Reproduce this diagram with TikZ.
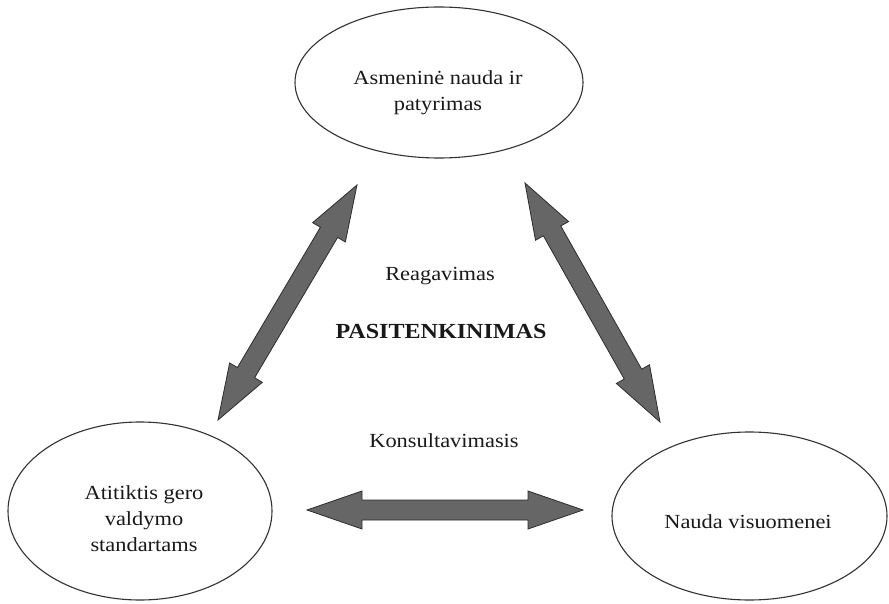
\documentclass[tikz,border=0pt]{standalone}
\usepackage{fontspec}
\setmainfont{Liberation Serif}[FakeStretch=1.12]
\usetikzlibrary{calc,shapes.geometric}
\definecolor{ringline}{RGB}{50,50,50}
\definecolor{arrowfill}{RGB}{102,102,102}
\definecolor{arrowline}{RGB}{45,45,45}
\tikzset{
  ring/.style={ellipse, draw=ringline, line width=1.1pt, inner sep=0pt},
  txt/.style={font=\fontsize{20}{26}\selectfont, align=center, anchor=base, inner sep=0pt, text=black!90},
  bigtxt/.style={font=\fontsize{21.5}{26}\selectfont\bfseries, anchor=base, inner sep=0pt, text=black!90},
}
\newcommand{\blockarrow}[2]{%
  \fill[arrowfill, draw=arrowline, line width=0.8pt, line join=miter]
    (#1)
    -- ($(#1)!55pt!(#2)!19pt!90:(#2)$)
    -- ($(#1)!55pt!(#2)!10pt!90:(#2)$)
    -- ($(#2)!55pt!(#1)!10pt!-90:(#1)$)
    -- ($(#2)!55pt!(#1)!19pt!-90:(#1)$)
    -- (#2)
    -- ($(#2)!55pt!(#1)!19pt!90:(#1)$)
    -- ($(#2)!55pt!(#1)!10pt!90:(#1)$)
    -- ($(#1)!55pt!(#2)!10pt!-90:(#2)$)
    -- ($(#1)!55pt!(#2)!19pt!-90:(#2)$)
    -- cycle;}
\begin{document}
\begin{tikzpicture}[x=1pt,y=-1pt]
\useasboundingbox[fill=white] (0,0) rectangle (889,604);
% ellipses
\node[ring, minimum width=288pt, minimum height=151pt] (top) at (439,82.5) {};
\node[ring, minimum width=264pt, minimum height=178pt] (left) at (140,511) {};
\node[ring, minimum width=275pt, minimum height=168pt] (right) at (749.5,516) {};
% texts in ellipses (base = baseline of last line)
\node[txt] (toptxt) at (438,111) {Asmeninė nauda ir\\patyrimas};
\node[txt] (lefttxt) at (144,551) {Atitiktis gero\\valdymo\\standartams};
\node[txt] (righttxt) at (748,528) {Nauda visuomenei};
% centre texts
\node[txt] (reag) at (440,280) {Reagavimas};
\node[bigtxt] (pas) at (441,338) {PASITENKINIMAS};
\node[txt] (kons) at (444,447) {Konsultavimasis};
% arrow tips
\coordinate (a1) at (357,185);
\coordinate (a2) at (218,420);
\coordinate (b1) at (525,183);
\coordinate (b2) at (660,422);
\coordinate (c1) at (307,510);
\coordinate (c2) at (583,510);
\blockarrow{a1}{a2}
\blockarrow{b1}{b2}
\blockarrow{c1}{c2}
\end{tikzpicture}
\end{document}
